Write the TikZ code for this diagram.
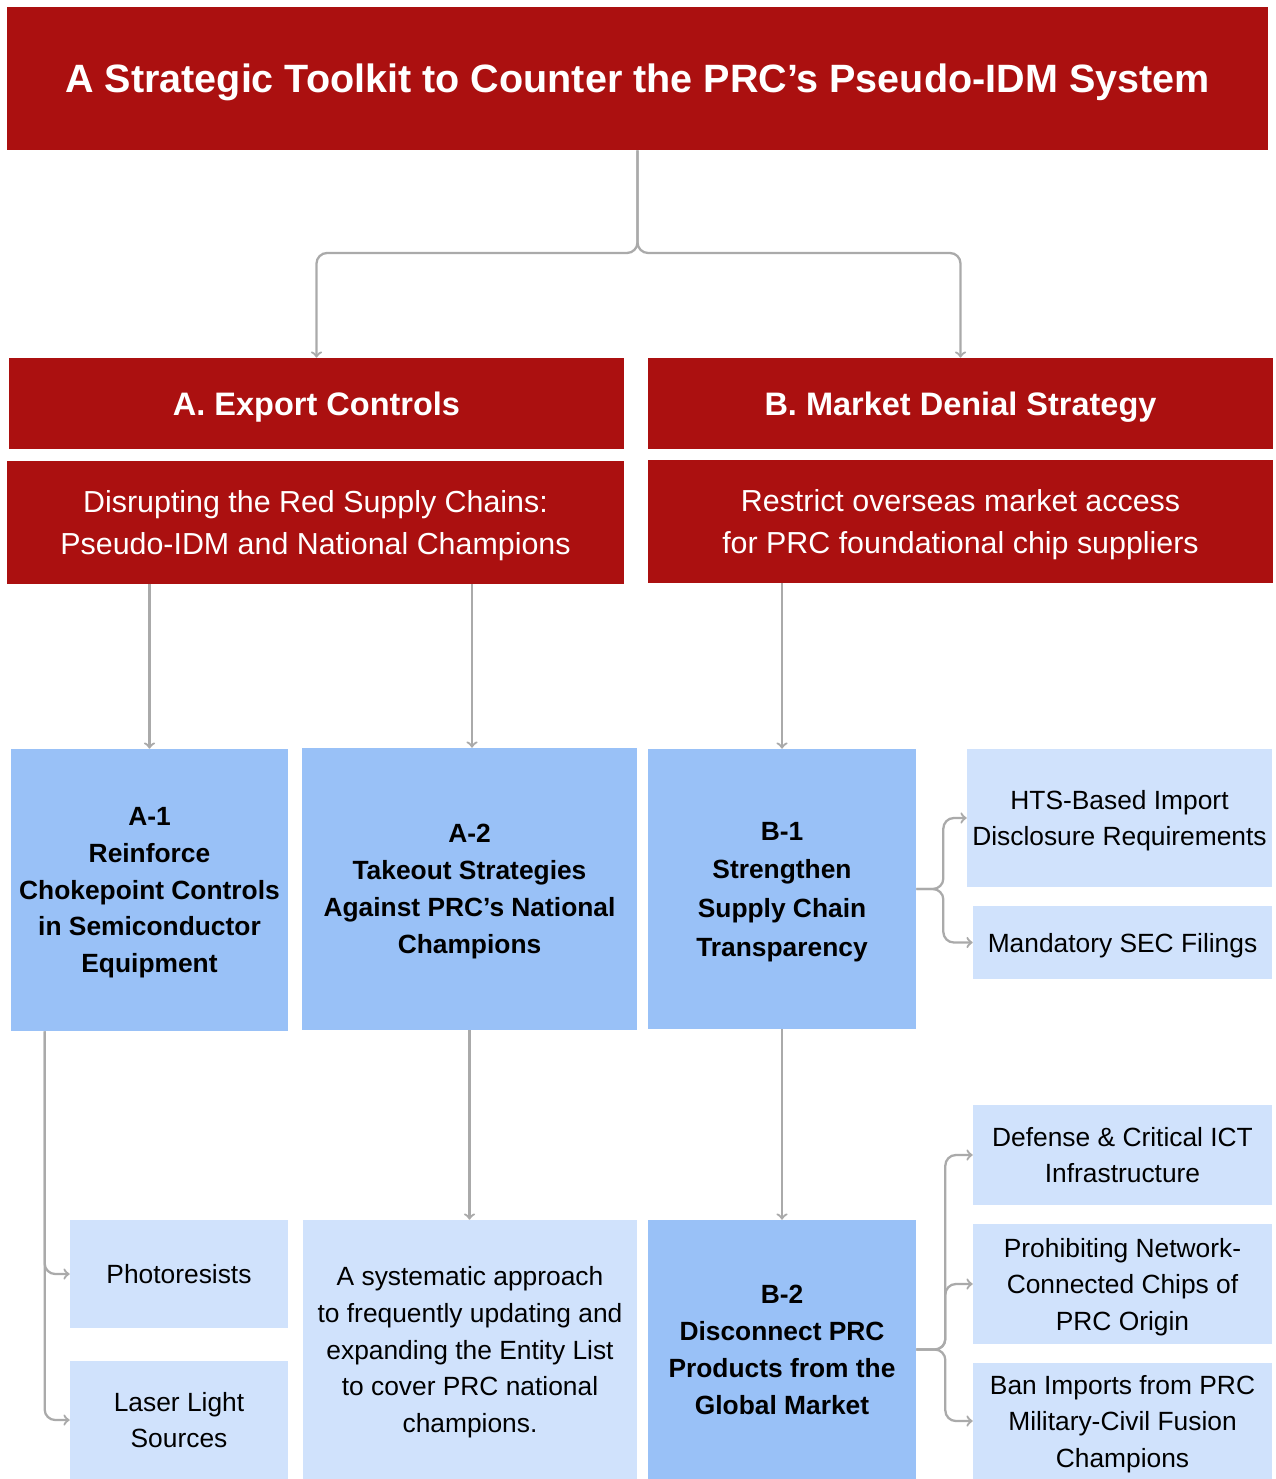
\documentclass[tikz,border=0pt]{standalone}
\usepackage{fontspec}
\setmainfont{Liberation Sans}
\definecolor{toolred}{RGB}{171, 16, 16}
\definecolor{stepblue}{RGB}{153, 193, 247}
\definecolor{paleblue}{RGB}{208, 226, 252}
\definecolor{linkgray}{RGB}{170, 170, 170}
\usepackage{tikz}

\begin{document}
\begin{tikzpicture}[x=0.02cm, y=-0.02cm,
    redbox/.style={fill=toolred, text=white, align=center, inner sep=0pt, text depth=0pt},
    stepbox/.style={fill=stepblue, align=center, inner sep=0pt, text depth=0pt, font=\fontsize{15}{21}\selectfont\bfseries},
    palebox/.style={fill=paleblue, align=center, inner sep=0pt, text depth=0pt, font=\fontsize{15}{20.8}\selectfont},
    conn/.style={draw=linkgray, line width=1.3pt, rounded corners=6pt, ->}]
    \useasboundingbox (0,0) rectangle (1275,1479);
    % Title and the two strategies
    \node[redbox, minimum width=25.22cm, minimum height=2.86cm, font=\fontsize{22.5}{27}\selectfont\bfseries] (title) at (637.5,78.5) {A Strategic Toolkit to Counter the PRC’s Pseudo-IDM System};
    \node[redbox, minimum width=12.3cm, minimum height=1.82cm, font=\fontsize{18.5}{22}\selectfont\bfseries] (ahead) at (316.5,403.5) {A. Export Controls};
    \node[redbox, minimum width=12.5cm, minimum height=1.82cm, font=\fontsize{18.5}{22}\selectfont\bfseries] (bhead) at (960.5,403.5) {B. Market Denial Strategy};
    \node[redbox, minimum width=12.34cm, minimum height=2.46cm, font=\fontsize{17.3}{24.4}\selectfont] (asub) at (315.5,522.5) {Disrupting the Red Supply Chains:\\Pseudo-IDM and National Champions};
    \node[redbox, minimum width=12.5cm, minimum height=2.46cm, font=\fontsize{17.3}{24.4}\selectfont] (bsub) at (960.5,521.5) {Restrict overseas market access\\for PRC foundational chip suppliers};
    % Measures
    \node[stepbox, minimum width=5.54cm, minimum height=5.64cm] (a1) at (149.5,890) {A-1\\Reinforce\\Chokepoint Controls\\in Semiconductor\\Equipment};
    \node[stepbox, minimum width=6.7cm, minimum height=5.64cm] (a2) at (469.5,889) {A-2\\Takeout Strategies\\Against PRC’s National\\Champions};
    \node[stepbox, minimum width=5.36cm, minimum height=5.6cm, font=\fontsize{15}{22}\selectfont\bfseries] (b1) at (782,889) {B-1\\Strengthen\\Supply Chain\\Transparency};
    \node[stepbox, minimum width=5.36cm, minimum height=5.18cm] (b2) at (782,1349.5) {B-2\\Disconnect PRC\\Products from the\\Global Market};
    % Details
    \node[palebox, minimum width=6.1cm, minimum height=2.76cm] (hts) at (1119.5,818) {HTS-Based Import\\Disclosure Requirements};
    \node[palebox, minimum width=5.98cm, minimum height=1.46cm] (sec) at (1122.5,942.5) {Mandatory SEC Filings};
    \node[palebox, minimum width=4.36cm, minimum height=2.16cm] (photo) at (179,1274) {Photoresists};
    \node[palebox, minimum width=4.36cm, minimum height=2.36cm] (laser) at (179,1420) {Laser Light\\Sources};
    \node[palebox, minimum width=6.68cm, minimum height=5.18cm] (entity) at (470,1349.5) {A systematic approach\\to frequently updating and\\expanding the Entity List\\to cover PRC national\\champions.};
    \node[palebox, minimum width=5.98cm, minimum height=2cm] (ict) at (1122.5,1155) {Defense \& Critical ICT\\Infrastructure};
    \node[palebox, minimum width=5.98cm, minimum height=2.4cm] (netchips) at (1122.5,1284) {Prohibiting Network-\\Connected Chips of\\PRC Origin};
    \node[palebox, minimum width=5.98cm, minimum height=2.32cm] (mcf) at (1122.5,1421) {Ban Imports from PRC\\Military-Civil Fusion\\Champions};
    % Connectors
    \coordinate (split) at (637.5,253);
    \draw[conn] (title.south) -- (split) -| (ahead.north);
    \draw[conn] (title.south) -- (split) -| (bhead.north);
    \draw[conn] (a1.north |- asub.south) -- (a1.north);
    \draw[conn] ([xshift=0.05cm]a2.north |- asub.south) -- ([xshift=0.05cm]a2.north);
    \draw[conn] (b1.north |- bsub.south) -- (b1.north);
    \draw[conn] ([xshift=0.68cm]a1.south west) |- (photo.west);
    \draw[conn] ([xshift=0.68cm]a1.south west) |- (laser.west);
    \draw[conn] (a2.south) -- (a2.south |- entity.north);
    \draw[conn] (b1.south) -- (b2.north);
    \draw[conn] (b1.east) -- ++(27,0) |- (hts.west);
    \draw[conn] (b1.east) -- ++(27,0) |- (sec.west);
    \draw[conn] (b2.east) -- ++(29,0) |- (ict.west);
    \draw[conn] (b2.east) -- ++(29,0) |- (netchips.west);
    \draw[conn] (b2.east) -- ++(29,0) |- (mcf.west);
\end{tikzpicture}
\end{document}
